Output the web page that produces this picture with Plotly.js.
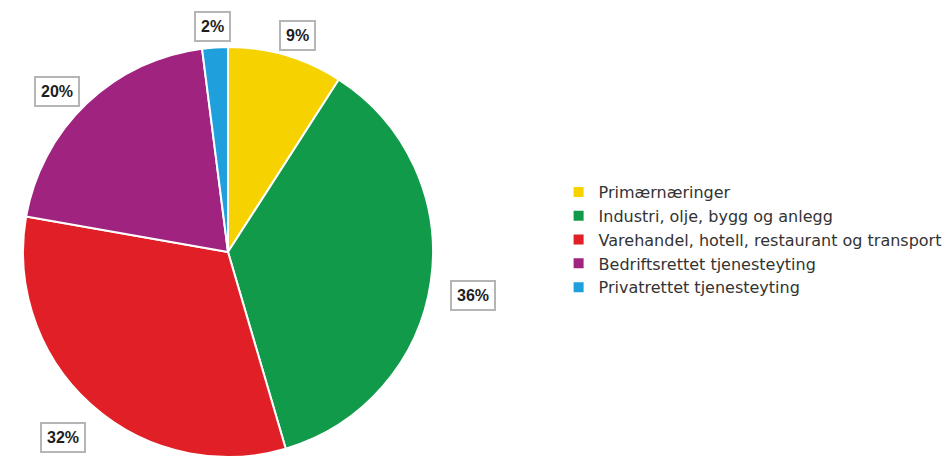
<!DOCTYPE html>
<html>
<head>
<meta charset="utf-8">
<script src="https://cdn.plot.ly/plotly-3.0.1.min.js"></script>
<style>html,body{margin:0;padding:0;background:#fff;}#chart{width:950px;height:458px;}</style>
</head>
<body>
<div id="chart"></div>
<script>
var categories = ["Primærnæringer", "Industri, olje, bygg og anlegg", "Varehandel, hotell, restaurant og transport", "Bedriftsrettet tjenesteyting", "Privatrettet tjenesteyting"];
var shares = [9, 36, 32, 20, 2];
var sliceColors = ["#f6d200", "#109a4a", "#e01f26", "#a0237f", "#1f9fdb"];

var W = 950, H = 458;
var cxPx = 228, cyPx = 252, rPx = 205;
var domX = [(cxPx - rPx) / W, (cxPx + rPx) / W];
var domY = [(H - cyPx - rPx) / H, (H - cyPx + rPx) / H];

var total = shares.reduce(function(a, b){ return a + b; }, 0);
var annotations = [];
var cum = 0;
var labelRx = 248, labelRy = 236;
shares.forEach(function(v){
  var mid = (cum + v / 2) / total * 2 * Math.PI;
  cum += v;
  var px = cxPx + labelRx * Math.sin(mid);
  var py = cyPx - labelRy * Math.cos(mid);
  annotations.push({xref: "paper", yref: "paper", x: px / W, y: (H - py) / H,
    showarrow: false, xanchor: "center", yanchor: "middle", yshift: -10,
    text: "<b>" + v + "%</b>",
    font: {family: "Liberation Sans, Arial, sans-serif", size: 16, color: "#1e1e1e"},
    bgcolor: "#ffffff", bordercolor: "#b5b5b5", borderwidth: 2, borderpad: 5});
});

var data = [{
  type: "pie",
  labels: categories,
  values: shares,
  sort: false,
  direction: "clockwise",
  rotation: 0,
  textinfo: "none",
  hoverinfo: "label+percent",
  marker: {colors: sliceColors, line: {color: "#ffffff", width: 2}},
  domain: {x: domX, y: domY}
}];

var layout = {
  width: W, height: H,
  margin: {l: 0, r: 0, t: 0, b: 0},
  paper_bgcolor: "#ffffff",
  showlegend: true,
  legend: {x: 0.588, y: 0.477, xanchor: "left", yanchor: "middle",
    font: {family: "DejaVu Sans, Liberation Sans, sans-serif", size: 16, color: "#333"},
    tracegroupgap: 0, itemsizing: "constant"},
  annotations: annotations
};

Plotly.newPlot("chart", data, layout, {displayModeBar: false, staticPlot: true});
</script>
</body>
</html>
